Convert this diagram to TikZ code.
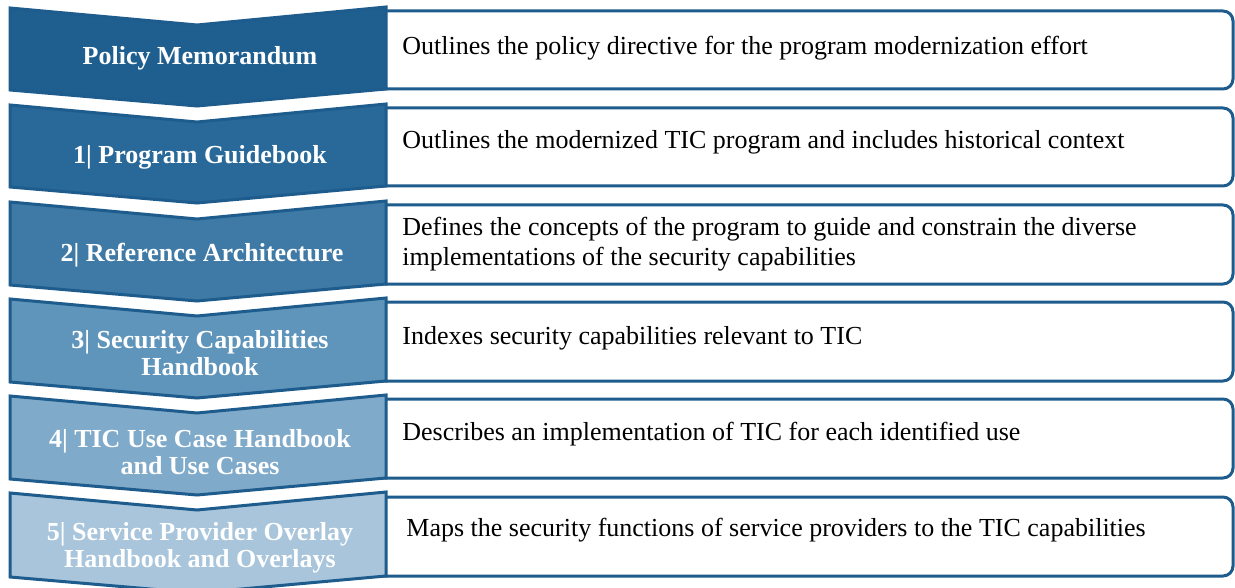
\documentclass[tikz,border=0pt]{standalone}
\usepackage{fontspec}
\setmainfont{Liberation Serif}
\usepackage{tikz}
\usetikzlibrary{positioning}
\definecolor{edgeblue}{HTML}{1D5C8C}
\definecolor{lvA}{HTML}{1F5F8F}
\definecolor{lvB}{HTML}{296999}
\definecolor{lvC}{HTML}{3F7AA6}
\definecolor{lvD}{HTML}{5F95BB}
\definecolor{lvE}{HTML}{80AACA}
\definecolor{lvF}{HTML}{A8C5DB}

\begin{document}
\begin{tikzpicture}[x = 0.5pt, y = -0.5pt, chev/.style={draw=edgeblue, line width=1.5pt, line join=miter}, box/.style={draw=edgeblue, line width=1.5pt, fill=white, rounded corners=5pt}, step label/.style={white, align=center, font=\fontsize{13}{13.5}\selectfont\bfseries}, desc/.style={anchor=west, align=left, inner sep=0pt, font=\fontsize{13}{15}\selectfont}]
      \useasboundingbox (0, 0) rectangle (1235, 588);
      % description boxes
      \draw[box] (375, 11) rectangle (1233, 89);
      \draw[box] (375, 108) rectangle (1233, 186);
      \draw[box] (375, 205) rectangle (1233, 284);
      \draw[box] (375, 302) rectangle (1233, 381);
      \draw[box] (375, 399) rectangle (1233, 478);
      \draw[box] (375, 497) rectangle (1233, 576);
      % chevrons
      \draw[chev, fill=lvA] (10, 8) -- (197, 25) -- (386, 7) -- (386, 89) -- (197, 106) -- (10, 90) -- cycle;
      \draw[chev, fill=lvB] (10, 105) -- (197, 122) -- (386, 104) -- (386, 186) -- (197, 203) -- (10, 187) -- cycle;
      \draw[chev, fill=lvC] (10, 202) -- (197, 219) -- (386, 201) -- (386, 284) -- (197, 301) -- (10, 285) -- cycle;
      \draw[chev, fill=lvD] (10, 299) -- (197, 316) -- (386, 298) -- (386, 381) -- (197, 398) -- (10, 382) -- cycle;
      \draw[chev, fill=lvE] (10, 396) -- (197, 413) -- (386, 395) -- (386, 478) -- (197, 495) -- (10, 479) -- cycle;
      \draw[chev, fill=lvF] (10, 493) -- (197, 510) -- (386, 492) -- (386, 576) -- (197, 593) -- (10, 577) -- cycle;
      % step names
      \node[step label] (memo) at (200, 58) {Policy Memorandum};
      \node[step label] (guide) at (200, 157) {1| Program Guidebook};
      \node[step label] (arch) at (202, 255) {2| Reference Architecture};
      \node[step label] (caps) at (200, 353) {3| Security Capabilities\\Handbook};
      \node[step label] (usecase) at (200, 452) {4| TIC Use Case Handbook\\and Use Cases};
      \node[step label] (overlay) at (200, 548) {5| Service Provider Overlay\\Handbook and Overlays};
      % descriptions
      \node[desc] (memo text) at (402, 48) {Outlines the policy directive for the program modernization effort};
      \node[desc] (guide text) at (402, 142) {Outlines the modernized TIC program and includes historical context};
      \node[desc] (arch text) at (402, 244) {Defines the concepts of the program to guide and constrain the diverse\\implementations of the security capabilities};
      \node[desc] (caps text) at (402, 338) {Indexes security capabilities relevant to TIC};
      \node[desc] (usecase text) at (402, 434) {Describes an implementation of TIC for each identified use};
      \node[desc] (overlay text) at (406, 530) {Maps the security functions of service providers to the TIC capabilities};
    \end{tikzpicture}
\end{document}
